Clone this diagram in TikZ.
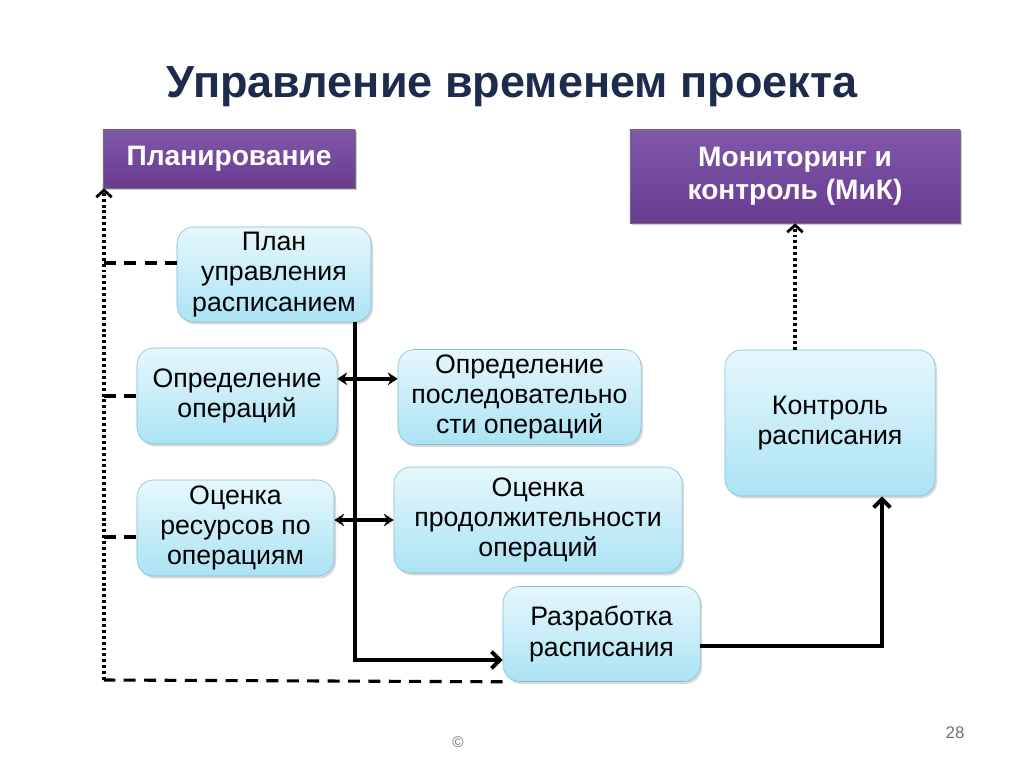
\documentclass[tikz,border=0pt]{standalone}
\usepackage{fontspec}
\setmainfont{Liberation Sans}
\usepackage{xcolor}
\usetikzlibrary{arrows.meta,shadows}
\definecolor{navy}{HTML}{1F2B4D}
\definecolor{purtop}{HTML}{7F57AA}
\definecolor{purbot}{HTML}{683C90}
\definecolor{blutop}{HTML}{E6F7FC}
\definecolor{blubot}{HTML}{ABE3F4}
\definecolor{bluline}{HTML}{80BED3}
\tikzset{
    PU/.style ={rectangle, inner sep=0pt, draw=black!55, top color=purtop, bottom color=purbot, text=white, align=center,
                font=\fontsize{20}{23.5}\selectfont\bfseries, drop shadow={opacity=0.4,shadow xshift=0.06cm,shadow yshift=-0.06cm}},
    BL/.style ={rectangle, rounded corners=0.42cm, inner sep=0pt, draw=bluline, top color=blutop, bottom color=blubot, align=center,
                font=\fontsize{19}{21.5}\selectfont, drop shadow={opacity=0.3,shadow xshift=0.05cm,shadow yshift=-0.06cm}},
    TH/.style ={line width=2.8pt, -{Straight Barb[length=6pt,width=12pt]}},
    DB/.style ={line width=2.6pt, {Stealth[length=7pt,width=9pt]}-{Stealth[length=7pt,width=9pt]}},
    DA/.style ={line width=2.2pt, dash pattern=on 8.5pt off 6pt},
    DO/.style ={line width=2.2pt, dash pattern=on 2.1pt off 2.1pt},
    OP/.style ={-{Straight Barb[length=5pt,width=11pt,line width=2pt]}}
}
\begin{document}
\begin{tikzpicture}[x=0.025cm,y=-0.025cm]
    \useasboundingbox[fill=white] (0,0) rectangle (1024,767);
    \node[font=\fontsize{32}{38}\selectfont\bfseries, text=navy] (title) at (512,87) {Управление временем проекта};
    % header boxes
    \node[PU, minimum width=6.3cm, minimum height=1.45cm] (plan) at (229,159) {Планирование};
    \node[PU, minimum width=8.25cm, minimum height=2.325cm] (mik) at (795,176.5) {Мониторинг и\\контроль (МиК)};
    % process boxes
    \node[BL, minimum width=4.85cm, minimum height=2.375cm] (upr) at (274,274.5) {План\\управления\\расписанием};
    \node[BL, minimum width=5cm, minimum height=2.4cm] (opr) at (237,396) {Определение\\операций};
    \node[BL, minimum width=6.075cm, minimum height=2.375cm] (posl) at (519.5,397) {Определение\\последовательно\\сти операций};
    \node[BL, minimum width=4.925cm, minimum height=2.4cm] (res) at (235.5,528) {Оценка\\ресурсов по\\операциям};
    \node[BL, minimum width=7.2cm, minimum height=2.65cm] (dur) at (538,520) {Оценка\\продолжительности\\операций};
    \node[BL, minimum width=4.925cm, minimum height=2.375cm] (razr) at (601.5,634) {Разработка\\расписания};
    \node[BL, minimum width=5.25cm, minimum height=3.65cm] (kontr) at (830,423) {Контроль\\расписания};
    % connectors
    \coordinate (L0) at (104,680);
    \coordinate (L1) at (104,263);
    \coordinate (L3) at (104,537);
    \coordinate (J) at (355,660);
    \draw[DA] (razr.south west) -- (L0);
    \draw[DO, OP] (L0) -- (L0 |- plan.south);
    \draw[DA] (L1) -- (L1 -| upr.west);
    \draw[DA] (opr.west -| L1) -- (opr.west);
    \draw[DA] (L3) -- (L3 -| res.west);
    \draw[TH] (upr.south -| J) -- (J) -- (J -| razr.west);
    \draw[DB] ([yshift=0.43cm]opr.east) -- ([yshift=0.43cm]opr.east -| posl.west);
    \draw[DB] (dur.west -| res.east) -- (dur.west);
    \draw[TH] ([yshift=-0.29cm]razr.east) -| ([xshift=1.3cm]kontr.south);
    \draw[DO, OP] (kontr.north -| mik.south) -- (mik.south);
    % footer
    \node[text=black!55, font=\fontsize{11}{13}\selectfont] (copy) at (458,742) {©};
    \node[text=black!55, font=\fontsize{12}{14}\selectfont] (page) at (955,733) {28};
\end{tikzpicture}
\end{document}
